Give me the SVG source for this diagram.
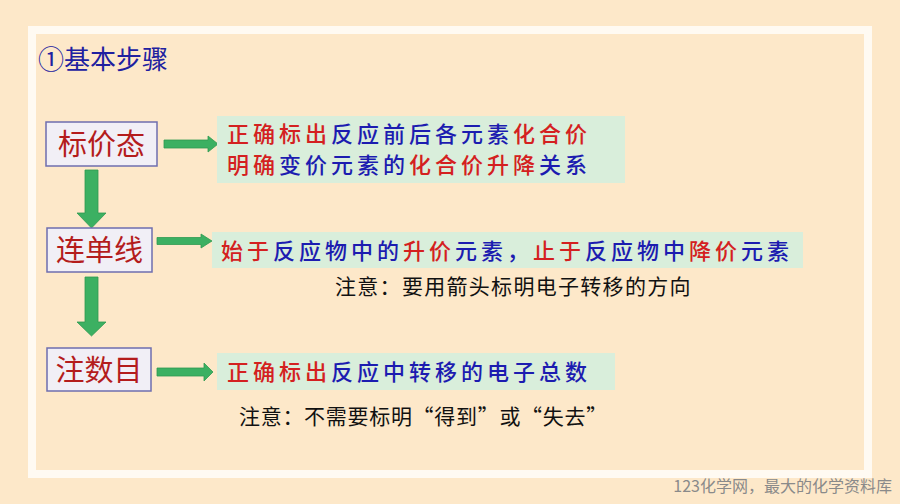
<svg xmlns="http://www.w3.org/2000/svg" width="900" height="504" viewBox="0 0 900 504">
<style>
.cjk{font-family:"Noto Sans CJK SC","Liberation Sans",sans-serif}
.step{fill:#f1eff6;stroke:#6e6eae;stroke-width:1.5}
.steptxt{font-size:29px;fill:#b41c1c;text-anchor:middle}
.info{fill:#d9eedb}
.infotxt{font-size:22px;letter-spacing:4px;font-weight:500}
.r{fill:#d42020}
.b{fill:#1c1cb0}
.note{font-size:21px;fill:#111}
.arrow{fill:#3cb062;stroke:#2f9a52;stroke-width:0.8}
</style>
<rect x="0" y="0" width="900" height="504" fill="#fde8c9"/>
<rect x="32" y="30" width="836" height="444" fill="#fde8c9" stroke="#fffaf2" stroke-width="8"/>
<text id="title" class="cjk" x="38" y="69" font-size="26" fill="#2020a0">①基本步骤</text>

<g id="connectors">
  <path class="arrow" d="M164,140 H208 V136 L218,144 L208,152 V148 H164 Z"/>
  <path class="arrow" d="M157,237.5 H201 V234 L212,241 L201,248 V244.5 H157 Z"/>
  <path class="arrow" d="M157,368 H204 V363 L213,372 L204,381 V376 H157 Z"/>
  <path class="arrow" d="M85,170 H98 V213 H106 L91.5,228 L77,213 H85 Z"/>
  <path class="arrow" d="M85,277 H98 V322 H106 L91.5,336 L77,322 H85 Z"/>
</g>

<g id="node-biaojiatai">
  <rect class="step" x="46" y="122" width="111" height="44"/>
  <text class="cjk steptxt" x="101.5" y="155">标价态</text>
</g>
<g id="node-lianchanxian">
  <rect class="step" x="47" y="228" width="105" height="44"/>
  <text class="cjk steptxt" x="99.5" y="261">连单线</text>
</g>
<g id="node-zhushumu">
  <rect class="step" x="47" y="348" width="104" height="43"/>
  <text class="cjk steptxt" x="99" y="381">注数目</text>
</g>

<g id="info-1">
  <rect class="info" x="217" y="116" width="408" height="67"/>
  <text class="cjk infotxt" x="227" y="142"><tspan class="r">正确标出</tspan><tspan class="b">反应前后各元素</tspan><tspan class="r">化合价</tspan></text>
  <text class="cjk infotxt" x="227" y="173"><tspan class="r">明确</tspan><tspan class="b">变价元素的</tspan><tspan class="r">化合价升降</tspan><tspan class="b">关系</tspan></text>
</g>
<g id="info-2">
  <rect class="info" x="212" y="232" width="591" height="36"/>
  <text class="cjk infotxt" x="221" y="259"><tspan class="r">始于</tspan><tspan class="b">反应物中的</tspan><tspan class="r">升价</tspan><tspan class="b">元素，</tspan><tspan class="r">止于</tspan><tspan class="b">反应物中</tspan><tspan class="r">降价</tspan><tspan class="b">元素</tspan></text>
  <text class="cjk note" x="335" y="294" letter-spacing="1.3">注意：要用箭头标明电子转移的方向</text>
</g>
<g id="info-3">
  <rect class="info" x="217" y="353" width="398" height="37"/>
  <text class="cjk infotxt" x="227" y="380"><tspan class="r">正确标出</tspan><tspan class="b">反应中转移的电子总数</tspan></text>
  <text class="cjk note" x="239" y="424" letter-spacing="0.7">注意：不需要标明“得到”或“失去”</text>
</g>

<text id="watermark" class="cjk" x="892" y="492" font-size="16" fill="#8a8a8a" text-anchor="end">123化学网，最大的化学资料库</text>
</svg>
